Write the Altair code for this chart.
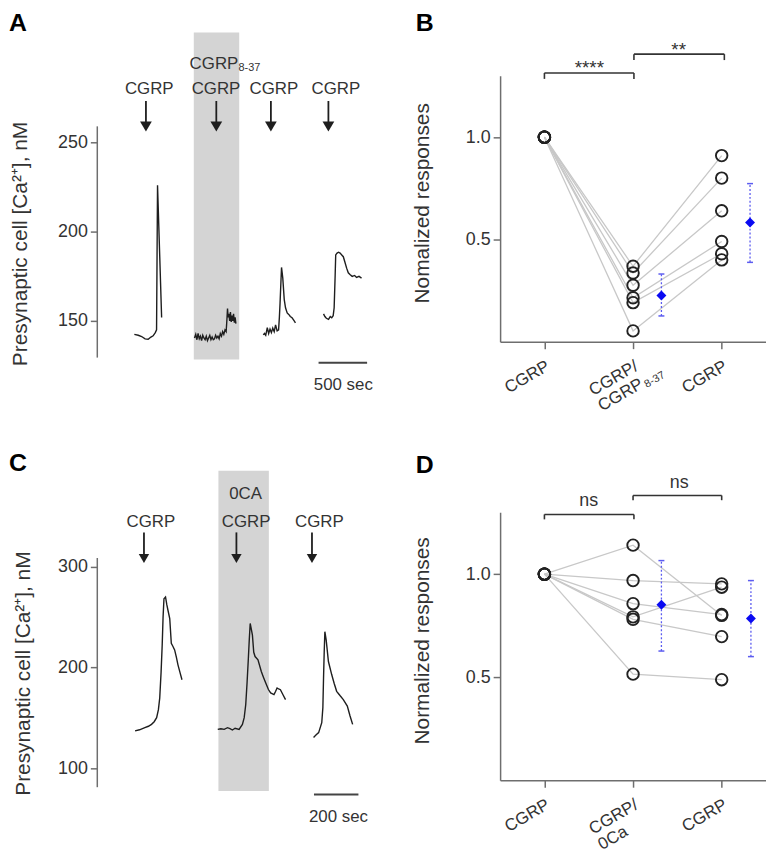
import altair as alt
import pandas as pd

FONT = "Liberation Sans"
INK = "#1e1e1e"
AXIS_GRAY = "#6e6e6e"
TXT = "#333333"
BOX_GRAY = "#d4d4d4"
PAIR_GRAY = "#c8c8c8"
MEAN_BLUE = "#0a0af2"
ERR_BLUE = "#5c5cf0"

# ================= Panel A : [Ca2+] traces, CGRP / CGRP8-37 =================
A_t_domain = [0, 2850]          # seconds
A_v_domain = [129.5, 287.3]     # nM
A_axis_span = [129.5, 259]
A_ticks = [150, 200, 250]
A_seg1_t = [380, 420, 455, 490, 522, 550, 573, 595, 608, 618, 660]
A_seg1_v = [142.5, 142.0, 141.3, 140.0, 139.8, 141.0, 141.7, 143.5, 145.0, 226.0, 152.0]
A_seg2_t = [997, 1010, 1022, 1034, 1046, 1058, 1070, 1082, 1094, 1106, 1118, 1130, 1142, 1154,
            1166, 1178, 1190, 1202, 1214, 1226, 1238, 1250, 1262, 1274, 1286, 1298, 1310, 1322,
            1330, 1336, 1342, 1350, 1358, 1366, 1374, 1382, 1390, 1398, 1406, 1414, 1422]
A_seg2_v = [140.5, 142.5, 139.5, 143, 140, 141.5, 139, 142, 140.5, 139.5, 141.5, 139, 140.5, 142,
            139.5, 141, 139.5, 140, 142, 140.5, 141.5, 140, 143, 141.5, 144, 142.5, 145, 144,
            151, 157, 152, 154, 150, 155, 149.5, 153, 150, 154, 149, 152, 148.5]
A_seg3_t = [1703, 1715, 1728, 1744, 1758, 1772, 1786, 1800, 1815, 1829, 1845, 1860, 1868, 1875,
            1890, 1903, 1918, 1931, 1948, 1964, 1980, 1998, 2015, 2033]
A_seg3_v = [142.2, 143, 142, 146.3, 143, 145.5, 143.5, 146, 144, 147.8, 144.5, 145, 152, 160,
            180, 174, 162, 157.4, 154.5, 153.7, 152.5, 151.8, 150.5, 149]
A_seg4_t = [2321, 2335, 2350, 2372, 2390, 2405, 2420, 2430, 2440, 2446, 2460, 2475, 2491, 2508,
            2524, 2540, 2558, 2575, 2592, 2615, 2640, 2660, 2685, 2711]
A_seg4_v = [154, 152.5, 151.5, 150.9, 152.5, 151.8, 153, 157.4, 175, 187, 188, 188.5, 188, 187,
            186, 183, 179.6, 177, 176, 175, 175.5, 174.4, 175, 174]
A_box_t = [990, 1456]
A_box_v = [128.4, 311.6]
A_arrow_t = [499, 1221, 1781, 2371]
A_arrow_v = [273.2, 261.0, 258.9]      # shaft top, shaft bottom, head centre
A_label_t = [533, 1218, 1812, 2448]
A_label_v = 280.1
A_label_text = ["CGRP", "CGRP", "CGRP", "CGRP"]
A_top_text = ["CGRP", "8-37"]           # CGRP with subscript 8-37
A_top_t = [1197, 1448]
A_top_v = [294.0, 291.9]
A_bar_t = [2270, 2768]
A_bar_v = 126.6
A_bar_label = "500 sec"
A_bar_label_pos = [2524, 114.4]
A_letter = "A"
A_letter_pos = [-906, 323.4]

# ================= Panel C : [Ca2+] traces, CGRP / 0Ca =================
C_t_domain = [0, 1250]
C_v_domain = [81, 353.9]
C_axis_span = [81, 308.6]
C_ticks = [100, 200, 300]
C_seg1_t = [170, 190, 214, 230, 244, 256, 267, 275, 281, 287, 292, 296, 300, 307, 313, 318,
            326, 333, 340, 348, 356, 363, 372, 381]
C_seg1_v = [136.9, 138, 140.1, 141.5, 143.4, 146, 150, 158, 169.7, 195, 222, 250, 268.2, 269.9,
            262, 256.7, 248.5, 223.9, 221, 217.3, 210, 202.5, 195, 187.7]
C_seg2_t = [542, 556, 571, 586, 597, 608, 620, 638, 653, 661, 668, 674, 679, 684, 688, 693,
            698, 704, 710, 723, 738, 748, 758, 770, 780, 795, 802, 809, 816, 824, 835, 847]
C_seg2_v = [138.4, 139, 138.4, 140.1, 139.2, 137.8, 139.5, 138.4, 143.4, 150, 163.1, 185, 205.8,
            228, 243.6, 238, 232, 215, 210.7, 207.4, 195.9, 190, 184.4, 178, 174.6, 172.9, 176,
            179.5, 178.5, 177.8, 173, 168]
C_seg3_t = [973, 985, 996, 1010, 1015, 1018, 1021, 1024, 1030, 1040, 1055, 1066, 1077, 1092,
            1107, 1125, 1137, 1149]
C_seg3_v = [130.3, 133, 135.2, 145, 160, 189.4, 215, 235.4, 227.1, 205.8, 192.6, 184, 176.2,
            172, 168, 161.5, 152, 143.4]
C_box_t = [545, 772]
C_box_v = [77.1, 395.3]
C_arrow_t = [210, 626, 966]
C_arrow_v = [334.0, 312.5, 308.1]
C_label_t = [241, 670, 999]
C_label_v = 344.4
C_label_text = ["CGRP", "CGRP", "CGRP"]
C_top_text = ["0CA"]
C_top_t = [667]
C_top_v = [372.3]
C_bar_t = [975, 1175]
C_bar_v = 73.8
C_bar_label = "200 sec"
C_bar_label_pos = [1085, 51.7]
C_letter = "C"
C_letter_pos = [-397, 415.0]

CA_TITLE = "Presynaptic cell [Ca²⁺], nM"

# ================= Panel B : normalized responses, CGRP8-37 =================
CATS = [0, 1, 2]
B_cgrp = [1.0, 1.0, 1.0, 1.0, 1.0, 1.0]
B_antag = [0.369, 0.336, 0.276, 0.215, 0.191, 0.053]
B_wash = [0.91, 0.80, 0.64, 0.49, 0.43, 0.40]
B_mean_x = [1.32, 2.32]
B_mean = [0.226, 0.583]
B_lo = [0.126, 0.388]
B_hi = [0.331, 0.773]
B_brackets = [[0.0, 1.01, 1.314, 1.285], [1.01, 2.03, 1.406, 1.377]]
B_sig_text = ["****", "**"]
B_sig_x = [0.507, 1.515]
B_sig_y = [1.340, 1.426]
B_title = "Nomalized responses"
B_label_multi = ["CGRP/", "CGRP"]
B_label_sub = "8-37"
B_letter = "B"
B_letter_pos = [-1.452, 1.615]

# ================= Panel D : normalized responses, 0Ca =================
D_cgrp = [1.0, 1.0, 1.0, 1.0, 1.0, 1.0]
D_0ca = [1.141, 0.969, 0.857, 0.793, 0.781, 0.515]
D_wash = [0.80, 0.953, 0.804, 0.937, 0.697, 0.488]
D_mean_x = [1.32, 2.33]
D_mean = [0.852, 0.785]
D_lo = [0.627, 0.600]
D_hi = [1.066, 0.969]
D_brackets = [[0.0, 1.01, 1.290, 1.266], [1.0, 2.0, 1.382, 1.359]]
D_sig_text = ["ns", "ns"]
D_sig_x = [0.5, 1.52]
D_sig_y = [1.357, 1.440]
D_title = "Normalized responses"
D_label_multi = ["CGRP/", "0Ca"]
D_letter = "D"
D_letter_pos = [-1.452, 1.589]

Y_DOMAIN = [0, 1.3]
X_DOMAIN = [-0.5, 2.5]
XLAB_Y = -0.08
TICK_FS = 18
TITLE_FS = 21
LINE_H = 18


def trace_panel(tdom, vdom, w, h, ticks, span, tX, tY, segs, box_t, box_v, arrow_t, arrow_v,
                head_size, label_t, label_v, label_text, top_text, top_t, top_v, top_sizes,
                top_align, bar_t, bar_v, bar_label, bar_pos, letter, letter_pos):
    xs = alt.Scale(domain=tdom, nice=False, zero=False)
    ys = alt.Scale(domain=vdom, nice=False, zero=False)
    yaxis = alt.Axis(values=ticks, format="d", domain=False, grid=False, tickSize=7,
                     tickWidth=1.5, tickColor=AXIS_GRAY, labelFontSize=TICK_FS, labelColor=TXT,
                     labelFont=FONT, labelPadding=3, title=CA_TITLE, titleFont=FONT,
                     titleFontSize=TITLE_FS, titleFontWeight="normal", titleColor=TXT,
                     titleAngle=270, titleAlign="center", titleBaseline="bottom",
                     titleX=tX, titleY=tY)

    def X():
        return alt.X("t:Q", scale=xs, axis=None)

    def Y():
        return alt.Y("v:Q", scale=ys, axis=yaxis)

    rows = []
    for i, (ts, vs) in enumerate(segs):
        for t, v in zip(ts, vs):
            rows.append({"seg": i, "t": t, "v": v})
    seg_df = pd.DataFrame(rows)

    box = alt.Chart(pd.DataFrame({"t": [box_t[0]], "t2": [box_t[1]], "v": [box_v[0]],
                                  "v2": [box_v[1]]})).mark_rect(color=BOX_GRAY).encode(
        x=X(), x2=alt.X2("t2:Q"), y=Y(), y2=alt.Y2("v2:Q"))
    axisline = alt.Chart(pd.DataFrame({"t": [tdom[0]], "v": [span[0]], "v2": [span[1]]})).mark_rule(
        color=AXIS_GRAY, strokeWidth=1.5).encode(x=X(), y=Y(), y2=alt.Y2("v2:Q"))
    traces = alt.Chart(seg_df).mark_line(color=INK, strokeWidth=1.4).encode(
        x=X(), y=Y(), detail="seg:N")
    n = len(arrow_t)
    shafts = alt.Chart(pd.DataFrame({"t": arrow_t, "v": [arrow_v[0]] * n,
                                     "v2": [arrow_v[1]] * n})).mark_rule(
        color=INK, strokeWidth=1.8).encode(x=X(), y=Y(), y2=alt.Y2("v2:Q"))
    heads = alt.Chart(pd.DataFrame({"t": arrow_t, "v": [arrow_v[2]] * n})).mark_point(
        shape="triangle-down", filled=True, size=head_size, color=INK, opacity=1,
        strokeWidth=0).encode(x=X(), y=Y())
    labels = alt.Chart(pd.DataFrame({"t": label_t, "v": [label_v] * len(label_t),
                                     "label": label_text})).mark_text(
        font=FONT, fontSize=17, color=TXT, baseline="middle", align="center").encode(
        x=X(), y=Y(), text="label:N")
    layers = [box, axisline, traces, shafts, heads, labels]
    for txt, tt, vv, fs, al in zip(top_text, top_t, top_v, top_sizes, top_align):
        layers.append(alt.Chart(pd.DataFrame({"t": [tt], "v": [vv], "label": [txt]})).mark_text(
            font=FONT, fontSize=fs, color=TXT, baseline="middle", align=al).encode(
            x=X(), y=Y(), text="label:N"))
    bar = alt.Chart(pd.DataFrame({"t": [bar_t[0]], "t2": [bar_t[1]], "v": [bar_v]})).mark_rule(
        color="#444444", strokeWidth=2).encode(x=X(), x2=alt.X2("t2:Q"), y=Y())
    bar_txt = alt.Chart(pd.DataFrame({"t": [bar_pos[0]], "v": [bar_pos[1]],
                                      "label": [bar_label]})).mark_text(
        font=FONT, fontSize=17, color=TXT, baseline="middle", align="center").encode(
        x=X(), y=Y(), text="label:N")
    let = alt.Chart(pd.DataFrame({"t": [letter_pos[0]], "v": [letter_pos[1]],
                                  "label": [letter]})).mark_text(
        font=FONT, fontSize=25, fontWeight="bold", color="#000000", baseline="top",
        align="left").encode(x=X(), y=Y(), text="label:N")
    layers += [bar, bar_txt, let]
    return alt.layer(*layers).properties(width=w, height=h)


def paired_panel(c0, c1, c2, mean_x, mean, lo, hi, brackets, sig_text, sig_x, sig_y, sig_size,
                 title, tX, tY, h, multi, sub, letter, letter_pos):
    xs = alt.Scale(domain=X_DOMAIN, nice=False, zero=False)
    ys = alt.Scale(domain=Y_DOMAIN, nice=False, zero=False)
    xaxis = alt.Axis(values=CATS, labels=False, title=None, grid=False, domainColor=AXIS_GRAY,
                     domainWidth=1.5, tickColor=AXIS_GRAY, tickWidth=1.5, tickSize=7)
    yaxis = alt.Axis(values=[0.5, 1.0], format=".1f", grid=False, domainColor=AXIS_GRAY,
                     domainWidth=1.5, tickColor=AXIS_GRAY, tickWidth=1.5, tickSize=7,
                     labelFontSize=TICK_FS, labelColor=TXT, labelFont=FONT, labelPadding=3,
                     title=title, titleFont=FONT, titleFontSize=TITLE_FS,
                     titleFontWeight="normal", titleColor=TXT, titleAngle=270,
                     titleAlign="center", titleBaseline="bottom", titleX=tX, titleY=tY)

    def X():
        return alt.X("x:Q", scale=xs, axis=xaxis)

    def Y():
        return alt.Y("y:Q", scale=ys, axis=yaxis)

    rows = []
    for i in range(len(c0)):
        for cx, vals in zip(CATS, [c0, c1, c2]):
            rows.append({"sid": i, "x": cx, "y": vals[i]})
    pdf = pd.DataFrame(rows)
    lines = alt.Chart(pdf).mark_line(color=PAIR_GRAY, strokeWidth=1.3).encode(
        x=X(), y=Y(), detail="sid:N")
    pts = alt.Chart(pdf).mark_point(shape="circle", filled=False, size=135, strokeWidth=1.9,
                                    color="#222222", opacity=1).encode(x=X(), y=Y())
    err = alt.Chart(pd.DataFrame({"x": mean_x, "y": lo, "y2": hi})).mark_rule(
        color=ERR_BLUE, strokeWidth=1.3, strokeDash=[2, 2]).encode(
        x=X(), y=Y(), y2=alt.Y2("y2:Q"))
    caps = alt.Chart(pd.DataFrame({"x": mean_x + mean_x, "y": lo + hi})).mark_tick(
        orient="horizontal", size=6, thickness=1.5, color=ERR_BLUE, opacity=1).encode(
        x=X(), y=Y())
    means = alt.Chart(pd.DataFrame({"x": mean_x, "y": mean})).mark_point(
        shape="diamond", filled=True, size=100, color=MEAN_BLUE, opacity=1,
        strokeWidth=0).encode(x=X(), y=Y())
    hb = pd.DataFrame({"x": [b[0] for b in brackets], "x2": [b[1] for b in brackets],
                       "y": [b[2] for b in brackets]})
    hbar = alt.Chart(hb).mark_rule(color="#333333", strokeWidth=1.6).encode(
        x=X(), x2=alt.X2("x2:Q"), y=Y())
    tips = pd.DataFrame({"x": [b[0] for b in brackets] + [b[1] for b in brackets],
                         "y": [b[2] for b in brackets] * 2,
                         "y2": [b[3] for b in brackets] * 2})
    tbar = alt.Chart(tips).mark_rule(color="#333333", strokeWidth=1.6).encode(
        x=X(), y=Y(), y2=alt.Y2("y2:Q"))
    sig = alt.Chart(pd.DataFrame({"x": sig_x, "y": sig_y, "label": sig_text})).mark_text(
        font=FONT, fontSize=sig_size, color=TXT, baseline="middle", align="center").encode(
        x=X(), y=Y(), text="label:N")
    lab1 = alt.Chart(pd.DataFrame({"x": [0, 2], "y": [XLAB_Y, XLAB_Y],
                                   "label": ["CGRP", "CGRP"]})).mark_text(
        font=FONT, fontSize=17, color=TXT, baseline="top", align="right", angle=330).encode(
        x=X(), y=Y(), text="label:N")
    lab2 = alt.Chart(pd.DataFrame({"x": [1], "y": [XLAB_Y]})).mark_text(
        text=multi, font=FONT, fontSize=17, color=TXT, baseline="top", align="left",
        angle=330, dx=-54, lineHeight=LINE_H).encode(x=X(), y=Y())
    layers = [lines, pts, err, caps, means, hbar, tbar, sig, lab1, lab2]
    if sub:
        layers.append(alt.Chart(pd.DataFrame({"x": [1], "y": [XLAB_Y], "label": [sub]})).mark_text(
            font=FONT, fontSize=11, color=TXT, baseline="top", align="left", angle=330,
            dx=-3, dy=LINE_H + 6).encode(x=X(), y=Y(), text="label:N"))
    layers.append(alt.Chart(pd.DataFrame({"x": [letter_pos[0]], "y": [letter_pos[1]],
                                          "label": [letter]})).mark_text(
        font=FONT, fontSize=25, fontWeight="bold", color="#000000", baseline="top",
        align="left").encode(x=X(), y=Y(), text="label:N"))
    return alt.layer(*layers).properties(width=268, height=h)


panel_A = trace_panel(A_t_domain, A_v_domain, 280, 284, A_ticks, A_axis_span, -67, 169,
                      [(A_seg1_t, A_seg1_v), (A_seg2_t, A_seg2_v), (A_seg3_t, A_seg3_v),
                       (A_seg4_t, A_seg4_v)],
                      A_box_t, A_box_v, A_arrow_t, A_arrow_v, 140, A_label_t, A_label_v,
                      A_label_text, A_top_text, A_top_t, A_top_v, [17, 11], ["center", "left"],
                      A_bar_t, A_bar_v, A_bar_label, A_bar_label_pos, A_letter, A_letter_pos)
panel_C = trace_panel(C_t_domain, C_v_domain, 280, 277, C_ticks, C_axis_span, -64, 162,
                      [(C_seg1_t, C_seg1_v), (C_seg2_t, C_seg2_v), (C_seg3_t, C_seg3_v)],
                      C_box_t, C_box_v, C_arrow_t, C_arrow_v, 110, C_label_t, C_label_v,
                      C_label_text, C_top_text, C_top_t, C_top_v, [17], ["center"],
                      C_bar_t, C_bar_v, C_bar_label, C_bar_label_pos, C_letter, C_letter_pos)
panel_B = paired_panel(B_cgrp, B_antag, B_wash, B_mean_x, B_mean, B_lo, B_hi, B_brackets,
                       B_sig_text, B_sig_x, B_sig_y, 19, B_title, -68, 128, 268,
                       B_label_multi, B_label_sub, B_letter, B_letter_pos)
panel_D = paired_panel(D_cgrp, D_0ca, D_wash, D_mean_x, D_mean, D_lo, D_hi, D_brackets,
                       D_sig_text, D_sig_x, D_sig_y, 18, D_title, -68, 129, 270,
                       D_label_multi, None, D_letter, D_letter_pos)

chart = alt.concat(panel_A, panel_B, panel_C, panel_D, columns=2,
                   spacing={"row": 156, "column": 126}, bounds="flush").properties(
    padding=0).configure(font=FONT).configure_view(stroke="transparent", strokeWidth=0)

chart.save("out.html", embed_options={"renderer": "svg", "actions": False})
